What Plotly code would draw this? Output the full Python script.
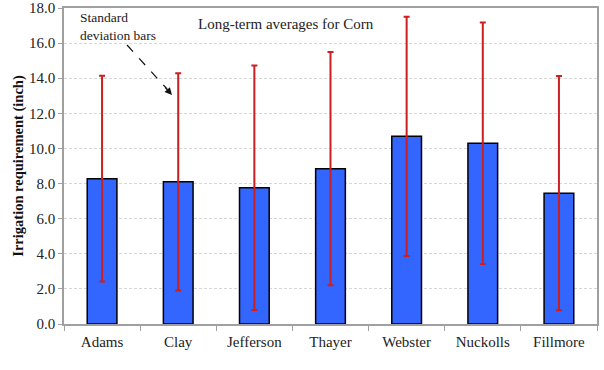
import plotly.graph_objects as go

counties = ["Adams", "Clay", "Jefferson", "Thayer", "Webster", "Nuckolls", "Fillmore"]
mean_ir = [8.28, 8.10, 7.76, 8.85, 10.69, 10.30, 7.45]
sd_ir = [5.86, 6.19, 6.96, 6.64, 6.81, 6.88, 6.67]
y_ticks = [0, 2, 4, 6, 8, 10, 12, 14, 16, 18]

FONT = "Liberation Serif"
L, R, T, B = 64, 7, 8, 46
W, H = 604, 370
pw, ph = W - L - R, H - T - B

def px(x):
    return (x - L) / pw

def py(y):
    return (H - B - y) / ph

fig = go.Figure()
fig.add_trace(go.Bar(
    x=counties, y=mean_ir,
    marker=dict(color="#3366ff", line=dict(color="#000000", width=1.5)),
    width=0.39,
    error_y=dict(type="data", array=sd_ir, visible=True, color="#cc1f1f",
                 thickness=2, width=3),
))

fig.update_layout(
    width=W, height=H,
    margin=dict(l=L, r=R, t=T, b=B),
    paper_bgcolor="white", plot_bgcolor="white",
    showlegend=False,
    font=dict(family=FONT, size=14, color="#222222"),
    xaxis=dict(
        automargin=False,
        showline=True, linecolor="#a0a0a0", linewidth=1.5, mirror=True,
        ticks="outside", tickson="boundaries", ticklen=5, tickcolor="#a0a0a0",
        ticklabelstandoff=3,
        showgrid=False, tickfont=dict(family=FONT, size=15, color="#222222"),
    ),
    yaxis=dict(
        automargin=False,
        range=[0, 18], tickvals=y_ticks, ticktext=[f"{v:.1f}" for v in y_ticks],
        showline=True, linecolor="#a0a0a0", linewidth=1.5, mirror=True,
        ticks="outside", ticklen=4, tickcolor="#a0a0a0",
        showgrid=True, gridcolor="#d6d6d6", griddash="3px,2px", gridwidth=1,
        zeroline=False,
        tickfont=dict(family=FONT, size=15, color="#222222"),
        title=dict(text="<b>Irrigation requirement (inch)</b>",
                   font=dict(family=FONT, size=14.5, color="#111111"), standoff=2),
    ),
    annotations=[
        dict(text="Long-term averages for Corn", xref="paper", yref="paper",
             x=px(196), y=py(24.5), xanchor="left", yanchor="middle",
             showarrow=False, font=dict(family=FONT, size=15, color="#222222")),
        dict(text="Standard<br>deviation bars", xref="paper", yref="paper",
             x=px(78), y=py(27), xanchor="left", yanchor="middle", align="left",
             showarrow=False, font=dict(family=FONT, size=13.5, color="#222222")),
        dict(text="", xref="paper", yref="paper", x=px(172), y=py(95),
             ax=-8, ay=-9, axref="pixel", ayref="pixel",
             showarrow=True, arrowhead=2, arrowsize=1.2, arrowwidth=1.2,
             arrowcolor="#111111"),
    ],
    shapes=[
        dict(type="line", xref="paper", yref="paper",
             x0=px(127), y0=py(45), x1=px(167), y1=py(89),
             line=dict(color="#111111", width=1.2, dash="dash")),
    ],
)

fig.write_html(
    "out.html",
    config={"displayModeBar": False},
    post_script="document.body.style.margin='0';document.body.style.overflow='hidden';",
)
